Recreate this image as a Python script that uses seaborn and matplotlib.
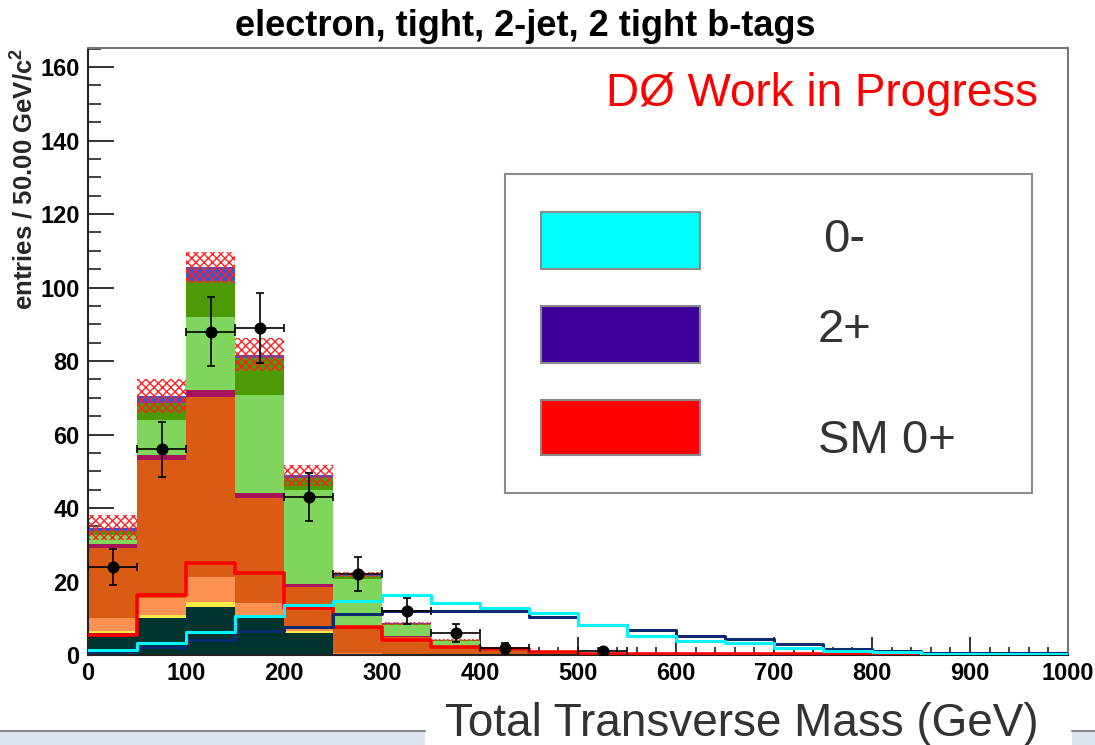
import numpy as np
import pandas as pd
import matplotlib
matplotlib.use("Agg")
import matplotlib.pyplot as plt
from matplotlib.patches import Rectangle
from matplotlib.lines import Line2D
from matplotlib.ticker import MultipleLocator
import seaborn as sns

# ---------------- data ----------------
bin_edges = [0, 50, 100, 150, 200, 250, 300, 350, 400, 450, 500,
             550, 600, 650, 700, 750, 800, 850, 900, 950, 1000]
bin_centers = [25, 75, 125, 175, 225, 275, 325, 375, 425, 475,
               525, 575, 625, 675, 725, 775, 825, 875, 925, 975]

# stacked background components (bottom to top)
bkg_teal       = [6.0, 10.0, 13.1, 10.0, 6.0, 0, 0, 0, 0, 0, 0, 0, 0, 0, 0, 0, 0, 0, 0, 0]
bkg_yellow     = [0.6, 0.9, 1.4, 0.9, 0.5, 0, 0, 0, 0, 0, 0, 0, 0, 0, 0, 0, 0, 0, 0, 0]
bkg_peach      = [3.4, 4.5, 6.8, 3.2, 1.2, 0.5, 0.3, 0.1, 0, 0, 0, 0, 0, 0, 0, 0, 0, 0, 0, 0]
bkg_orange     = [19.0, 37.6, 49.0, 28.5, 10.9, 6.5, 4.7, 2.2, 1.0, 0.3, 0.1, 0, 0, 0, 0, 0, 0, 0, 0, 0]
bkg_magenta    = [1.2, 1.4, 1.8, 1.4, 0.8, 0.3, 0.2, 0.1, 0, 0, 0, 0, 0, 0, 0, 0, 0, 0, 0, 0]
bkg_lightgreen = [2.5, 9.6, 19.8, 26.7, 25.5, 13.5, 3.0, 1.5, 0.7, 0.3, 0.1, 0, 0, 0, 0, 0, 0, 0, 0, 0]
bkg_darkgreen  = [1.0, 4.5, 10.0, 10.0, 3.2, 0.8, 0.3, 0.2, 0.1, 0, 0, 0, 0, 0, 0, 0, 0, 0, 0, 0]
bkg_blue       = [1.0, 2.0, 3.6, 1.0, 0.8, 0.3, 0.1, 0, 0, 0, 0, 0, 0, 0, 0, 0, 0, 0, 0, 0]
bkg_uncert     = [3.5, 4.7, 4.2, 4.5, 2.8, 0.8, 0.5, 0.3, 0.2, 0.1, 0, 0, 0, 0, 0, 0, 0, 0, 0, 0]

# signal hypotheses (overlaid step lines)
sig_0minus = [1.4, 3.2, 6.2, 10.6, 13.6, 14.7, 16.4, 14.2, 12.8, 11.3,
              8.1, 5.2, 3.7, 3.2, 2.0, 1.1, 0.8, 0.3, 0.3, 0.3]
sig_2plus  = [0.9, 2.3, 4.1, 6.6, 7.5, 11.1, 12.1, 12.1, 12.1, 10.3,
              8.3, 6.9, 5.1, 4.4, 3.1, 1.5, 1.1, 0.5, 0.5, 0.5]
sig_sm0p   = [5.4, 16.3, 25.0, 22.2, 12.8, 7.6, 4.0, 2.2, 1.6, 0.8,
              0.4, 0.4, 0.4, 0.4, 0.4, 0.3, 0.3, 0.0, 0.0, 0.0]

# observed data
data_x   = [25, 75, 125, 175, 225, 275, 325, 375, 425, 525]
data_y   = [24, 56, 88, 89, 43, 22, 12, 6, 2, 1]
data_err = [4.9, 7.5, 9.4, 9.4, 6.6, 4.7, 3.5, 2.4, 1.4, 1.0]

legend_labels = ["0-", "2+", "SM 0+"]
legend_colors = ["#00ffff", "#3d0099", "#ff0000"]

title_text = "electron, tight, 2-jet, 2 tight b-tags"
xlabel_text = "Total Transverse Mass (GeV)"
ylabel_text = r"entries / 50.00 GeV/c$^{\mathbf{2}}$"
prelim_text = "DØ Work in Progress"

# ---------------- style ----------------
sns.set_style("white")
plt.rcParams["font.family"] = ["Liberation Sans", "DejaVu Sans"]
plt.rcParams["mathtext.fontset"] = "custom"
plt.rcParams["mathtext.rm"] = "Liberation Sans"
plt.rcParams["mathtext.bf"] = "Liberation Sans:bold"
plt.rcParams["hatch.linewidth"] = 1.0

W, H = 1095, 745
fig = plt.figure(figsize=(W / 100, H / 100), dpi=100)
fig.patch.set_facecolor("white")

def fx(px):
    return px / W

def fy(py):
    return 1 - py / H

ax_l, ax_r, ax_t, ax_b = 88, 1068, 48, 655
ax = fig.add_axes([fx(ax_l), fy(ax_b), fx(ax_r) - fx(ax_l), fy(ax_t) - fy(ax_b)])

# ---------------- stacked backgrounds ----------------
comp_names = ["teal", "yellow", "peach", "orange", "magenta", "lightgreen", "darkgreen", "blue"]
comp_vals = [bkg_teal, bkg_yellow, bkg_peach, bkg_orange, bkg_magenta,
             bkg_lightgreen, bkg_darkgreen, bkg_blue]
comp_colors = {"teal": "#02342f", "yellow": "#f4ea4a", "peach": "#fd9152",
               "orange": "#da5c14", "magenta": "#a8145c", "lightgreen": "#80d65c",
               "darkgreen": "#4c9a05", "blue": "#3656d8"}

rows = []
for name, vals in zip(comp_names, comp_vals):
    for c, v in zip(bin_centers, vals):
        rows.append({"mass": c, "entries": v, "component": name})
df_stack = pd.DataFrame(rows)

# seaborn stacks the first hue level on top -> give order top to bottom
sns.histplot(data=df_stack, x="mass", weights="entries", hue="component",
             hue_order=comp_names[::-1], palette=comp_colors, multiple="stack",
             bins=bin_edges, element="step", fill=True, alpha=1, linewidth=0,
             legend=False, ax=ax, zorder=1)

# uncertainty band (hatched)
total = np.sum(np.array(comp_vals), axis=0)
unc = np.array(bkg_uncert)
mask = unc > 0
ax.bar(np.array(bin_centers)[mask], 2 * unc[mask], bottom=(total - unc)[mask], width=50,
       fill=False, hatch="xxxx", edgecolor="#ff2020", linewidth=0, zorder=2)

# ---------------- signal lines ----------------
for vals, col, lw in [(sig_sm0p, "#ff0000", 2.6), (sig_2plus, "#0b2b6e", 2.2),
                      (sig_0minus, "#00f5ff", 2.2)]:
    sns.histplot(x=bin_centers, weights=vals, bins=bin_edges, element="step",
                 fill=False, color=col, linewidth=lw, ax=ax, zorder=3)

# ---------------- data points ----------------
ax.errorbar(data_x, data_y, yerr=data_err, xerr=25, fmt="none", ecolor="black",
            elinewidth=1.2, capsize=3, capthick=1.2, zorder=4)
sns.scatterplot(x=data_x, y=data_y, color="black", s=75, edgecolor="black",
                linewidth=0, ax=ax, zorder=5)

# ---------------- axes ----------------
ax.set_xlim(0, 1000)
ax.set_ylim(0, 165.2)
ax.set_xticks(range(0, 1001, 100))
ax.set_yticks(range(0, 161, 20))
ax.xaxis.set_minor_locator(MultipleLocator(20))
ax.yaxis.set_minor_locator(MultipleLocator(5))
ax.tick_params(axis="x", which="both", bottom=True, top=False, labelbottom=True)
ax.tick_params(axis="y", which="both", left=True, right=False, labelleft=True)
ax.tick_params(axis="x", which="major", direction="in", length=13, width=1.3,
               labelsize=17, pad=5, color="#222222", labelcolor="black")
ax.tick_params(axis="x", which="minor", direction="in", length=6, width=1.2, color="#222222")
ax.tick_params(axis="y", which="major", direction="in", length=19, width=1.3,
               labelsize=17, pad=6, color="#222222", labelcolor="black")
ax.tick_params(axis="y", which="minor", direction="in", length=9.5, width=1.2, color="#222222")
for lab in ax.get_xticklabels() + ax.get_yticklabels():
    lab.set_fontweight("bold")

ax.set_xlabel("")
ax.set_ylabel(ylabel_text, loc="top", fontsize=18.5, fontweight="bold")
ax.yaxis.set_label_coords((37 - ax_l) / (ax_r - ax_l), 1.0)

for side in ["left", "bottom"]:
    ax.spines[side].set_color("#222222")
    ax.spines[side].set_linewidth(1.5)
for side in ["top", "right"]:
    ax.spines[side].set_color("#777777")
    ax.spines[side].set_linewidth(1.5)

# ---------------- texts ----------------
fig.text(fx(525), fy(27), title_text, ha="center", va="center",
         fontsize=26, fontweight="bold", color="black")
fig.text(fx(1038), fy(106), prelim_text, ha="right", va="baseline",
         fontsize=33, color="#ff0000")

# ---------------- legend box ----------------
fig.add_artist(Rectangle((fx(505), fy(493)), fx(1032) - fx(505), fy(174) - fy(493),
                         transform=fig.transFigure, facecolor="white",
                         edgecolor="#8c8c8c", linewidth=1.5, zorder=10))
patch_rows = [(212, 269), (306, 363), (400, 455)]
text_pos = [(823, 252), (818, 342), (818, 453)]
for (t, b), (tx, ty), lab, col in zip(patch_rows, text_pos, legend_labels, legend_colors):
    fig.add_artist(Rectangle((fx(541), fy(b)), fx(700) - fx(541), fy(t) - fy(b),
                             transform=fig.transFigure, facecolor=col,
                             edgecolor="#8a8a8a", linewidth=1.5, zorder=11))
    fig.text(fx(tx), fy(ty), lab, ha="left", va="baseline", fontsize=34,
             color="#333333", zorder=12)

# ---------------- slide footer ----------------
for x0, x1 in [(0, 425), (1072, 1095)]:
    fig.add_artist(Rectangle((fx(x0), 0), fx(x1) - fx(x0), fy(731),
                             transform=fig.transFigure, facecolor="#dde4f0",
                             edgecolor="none", zorder=1))
    fig.add_artist(Line2D([fx(x0), fx(x1)], [fy(731), fy(731)],
                          transform=fig.transFigure, color="#8a8a8a", linewidth=1.5))
fig.text(fx(445), fy(736), xlabel_text, ha="left", va="baseline",
         fontsize=33, color="#333333")

fig.savefig("out.png", dpi=100)
